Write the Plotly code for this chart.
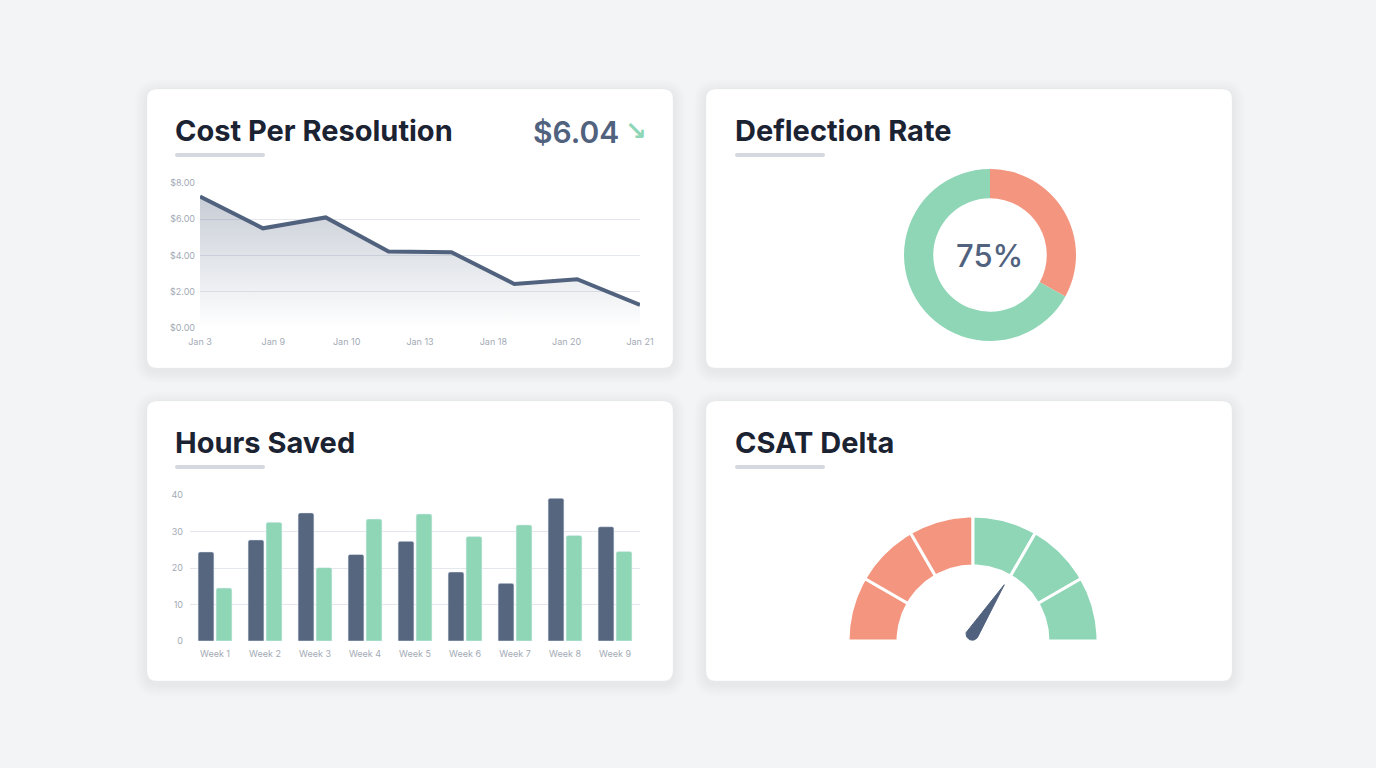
import numpy as np
import plotly.graph_objects as go

W, H = 1376, 768

# ---------------- data ----------------
cost_points = [0, 1, 2, 3, 4, 5, 6, 7]
cost_values = [7.25, 5.5, 6.1, 4.22, 4.18, 2.43, 2.69, 1.28]
cost_date_labels = ["Jan 3", "Jan 9", "Jan 10", "Jan 13", "Jan 18", "Jan 20", "Jan 21"]
cost_ticks = [0, 2, 4, 6, 8]
cost_tick_labels = ["$0.00", "$2.00", "$4.00", "$6.00", "$8.00"]
current_cost = "$6.04"

deflection_labels = ["Escalated", "Deflected"]
deflection_values = [33, 67]
deflection_text = "75%"

weeks = ["Week 1", "Week 2", "Week 3", "Week 4", "Week 5", "Week 6", "Week 7", "Week 8", "Week 9"]
hours_series_a = [24.4, 27.7, 35.1, 23.7, 27.3, 18.9, 15.8, 39.1, 31.3]
hours_series_b = [14.5, 32.5, 20.1, 33.4, 34.8, 28.6, 31.8, 28.9, 24.5]
hours_ticks = [0, 10, 20, 30, 40]

gauge_edges = [-3, -2, -1, 0, 1, 2, 3]
gauge_colors = ["#f4967f", "#f4967f", "#f4967f", "#8ed6b6", "#8ed6b6", "#8ed6b6"]
csat_delta = 1.1

# ---------------- style ----------------
NAVY = "#51627e"
BAR_NAVY = "#56667f"
GREEN = "#8ed6b6"
SALMON = "#f4967f"
TITLE = "#1b2333"
TICK = "#a3aab5"
GRID = "#e4e7ec"
FONT = "Inter"


def xp(px):
    return px / W


def yp(py):
    return 1 - py / H


def rrect(x0, y0, x1, y1, r):
    pts = [
        f"M {xp(x0 + r)},{yp(y0)}",
        f"L {xp(x1 - r)},{yp(y0)}",
        f"Q {xp(x1)},{yp(y0)} {xp(x1)},{yp(y0 + r)}",
        f"L {xp(x1)},{yp(y1 - r)}",
        f"Q {xp(x1)},{yp(y1)} {xp(x1 - r)},{yp(y1)}",
        f"L {xp(x0 + r)},{yp(y1)}",
        f"Q {xp(x0)},{yp(y1)} {xp(x0)},{yp(y1 - r)}",
        f"L {xp(x0)},{yp(y0 + r)}",
        f"Q {xp(x0)},{yp(y0)} {xp(x0 + r)},{yp(y0)}",
        "Z",
    ]
    return " ".join(pts)


fig = go.Figure()

# ---------------- cards ----------------
cards = [(147, 89, 673, 368), (706, 89, 1232, 368), (147, 401, 673, 681), (706, 401, 1232, 681)]
shapes = []
for (x0, y0, x1, y1) in cards:
    for i in range(6, 0, -1):
        e = i * 2.0
        shapes.append(dict(type="path", xref="paper", yref="paper", layer="below",
                           path=rrect(x0 - e, y0 - e + 3, x1 + e, y1 + e + 3, 10 + e),
                           fillcolor="rgba(30,41,59,0.006)", line=dict(width=0)))
    shapes.append(dict(type="path", xref="paper", yref="paper", layer="below",
                       path=rrect(x0, y0, x1, y1, 10),
                       fillcolor="#ffffff", line=dict(color="rgba(226,230,236,0.5)", width=0.5)))

titles = [("Cost Per Resolution", 175, 130), ("Deflection Rate", 735, 130),
          ("Hours Saved", 175, 442), ("CSAT Delta", 735, 442)]
annotations = []
for text, x, y in titles:
    annotations.append(dict(text=text, x=xp(x - 2), y=yp(y), xref="paper", yref="paper",
                            xanchor="left", yanchor="middle", showarrow=False,
                            font=dict(family=FONT, size=29, color=TITLE, weight=700)))
    shapes.append(dict(type="path", xref="paper", yref="paper", layer="below",
                       path=rrect(x, y + 23, x + 90, y + 27, 2),
                       fillcolor="#d4d9e0", line=dict(width=0)))

annotations.append(dict(text=current_cost, x=xp(621), y=yp(132), xref="paper", yref="paper",
                        xanchor="right", yanchor="middle", showarrow=False,
                        font=dict(family=FONT, size=30, color=NAVY, weight=600)))
annotations.append(dict(text="↘", x=xp(636), y=yp(131), xref="paper", yref="paper",
                        xanchor="center", yanchor="middle", showarrow=False,
                        font=dict(family="DejaVu Sans", size=26, color=GREEN, weight=700)))
annotations.append(dict(text=deflection_text, x=xp(990), y=yp(256), xref="paper", yref="paper",
                        xanchor="center", yanchor="middle", showarrow=False,
                        font=dict(family=FONT, size=31, color=NAVY, weight=500)))

# ---------------- line chart ----------------
fig.add_trace(go.Scatter(
    x=cost_points, y=cost_values, mode="lines", xaxis="x", yaxis="y",
    line=dict(color=NAVY, width=4), fill="tozeroy",
    fillgradient=dict(type="vertical",
                      colorscale=[[0, "rgba(81,98,126,0.0)"], [1, "rgba(81,98,126,0.32)"]]),
    cliponaxis=False, hoverinfo="skip"))

# ---------------- bar chart ----------------
fig.add_trace(go.Bar(x=weeks, y=hours_series_a, marker=dict(color=BAR_NAVY, cornerradius=2),
                     xaxis="x2", yaxis="y2", hoverinfo="skip"))
fig.add_trace(go.Bar(x=weeks, y=hours_series_b, marker=dict(color=GREEN, cornerradius=2),
                     xaxis="x2", yaxis="y2", hoverinfo="skip"))

# ---------------- donut ----------------
fig.add_trace(go.Pie(labels=deflection_labels, values=deflection_values, hole=0.66,
                     sort=False, direction="clockwise", rotation=0, automargin=False,
                     marker=dict(colors=[SALMON, GREEN], line=dict(width=0)),
                     textinfo="none", hoverinfo="skip",
                     domain=dict(x=[xp(904), xp(1076)], y=[yp(341), yp(169)])))

# ---------------- gauge ----------------
R_IN, R_OUT = 0.6, 1.0
gmin, gmax = gauge_edges[0], gauge_edges[-1]


def val2ang(v):
    return np.pi - (v - gmin) / (gmax - gmin) * np.pi


for k in range(len(gauge_edges) - 1):
    a0, a1 = val2ang(gauge_edges[k]), val2ang(gauge_edges[k + 1])
    t = np.linspace(a0, a1, 40)
    xs = np.concatenate([R_OUT * np.cos(t), R_IN * np.cos(t[::-1])])
    ys = np.concatenate([R_OUT * np.sin(t), R_IN * np.sin(t[::-1])])
    fig.add_trace(go.Scatter(x=np.append(xs, xs[0]), y=np.append(ys, ys[0]), mode="lines",
                             fill="toself", fillcolor=gauge_colors[k],
                             line=dict(color="#ffffff", width=3),
                             xaxis="x3", yaxis="y3", hoverinfo="skip"))

ang = val2ang(csat_delta)
pivot = np.array([-0.006, 0.056])
L, w = 0.47, 0.05
tip = pivot + L * np.array([np.cos(ang), np.sin(ang)])
back = np.linspace(ang + np.pi / 2, ang + 3 * np.pi / 2, 30)
nx = np.concatenate([[tip[0]], pivot[0] + w * np.cos(back), [tip[0]]])
ny = np.concatenate([[tip[1]], pivot[1] + w * np.sin(back), [tip[1]]])
fig.add_trace(go.Scatter(x=nx, y=ny, mode="lines", fill="toself", fillcolor=NAVY,
                         line=dict(color=NAVY, width=1), xaxis="x3", yaxis="y3",
                         hoverinfo="skip"))

tickfont = dict(family=FONT, size=9, color=TICK)
R_PX = 125.0
layout_axes = dict(
    xaxis=dict(domain=[xp(200), xp(640)], range=[0, 7],
               tickvals=[i * 7 / 6 for i in range(len(cost_date_labels))],
               ticktext=cost_date_labels, showgrid=False, zeroline=False, showline=False,
               ticks="", tickfont=tickfont, anchor="y", ticklabelstandoff=7, fixedrange=True,
               automargin=False),
    yaxis=dict(domain=[yp(328), yp(183)], range=[0, 8], tickvals=cost_ticks,
               ticktext=cost_tick_labels, showgrid=True, gridcolor=GRID, gridwidth=1,
               zeroline=False, showline=False, ticks="", tickfont=tickfont, anchor="x",
               ticklabelstandoff=4, fixedrange=True, automargin=False),
    xaxis2=dict(domain=[xp(190), xp(640)], showgrid=False, zeroline=False, showline=False,
                ticks="", tickfont=tickfont, anchor="y2", ticklabelstandoff=6, fixedrange=True,
                automargin=False),
    yaxis2=dict(domain=[yp(641), yp(495)], range=[0, 40], tickvals=hours_ticks,
                showgrid=True, gridcolor=GRID, zeroline=False, showline=False, ticks="",
                tickfont=tickfont, anchor="x2", ticklabelstandoff=6, fixedrange=True,
                automargin=False),
    xaxis3=dict(domain=[xp(840), xp(1110)], range=[(840 - 973) / R_PX, (1110 - 973) / R_PX],
                visible=False, anchor="y3", fixedrange=True, automargin=False),
    yaxis3=dict(domain=[yp(650), yp(505)], range=[(641 - 650) / R_PX, (641 - 505) / R_PX],
                visible=False, anchor="x3", fixedrange=True, automargin=False),
)

fig.update_layout(
    width=W, height=H, margin=dict(l=0, r=0, t=0, b=0, pad=0, autoexpand=False),
    autosize=False,
    paper_bgcolor="#f3f4f6", plot_bgcolor="rgba(0,0,0,0)",
    showlegend=False, barmode="group", bargap=0.28, bargroupgap=0.12,
    shapes=shapes, annotations=annotations, font=dict(family=FONT),
    **layout_axes,
)

fig.write_html("out.html", config={"displayModeBar": False},
               post_script="document.body.style.margin='0';document.body.style.overflow='hidden';")
